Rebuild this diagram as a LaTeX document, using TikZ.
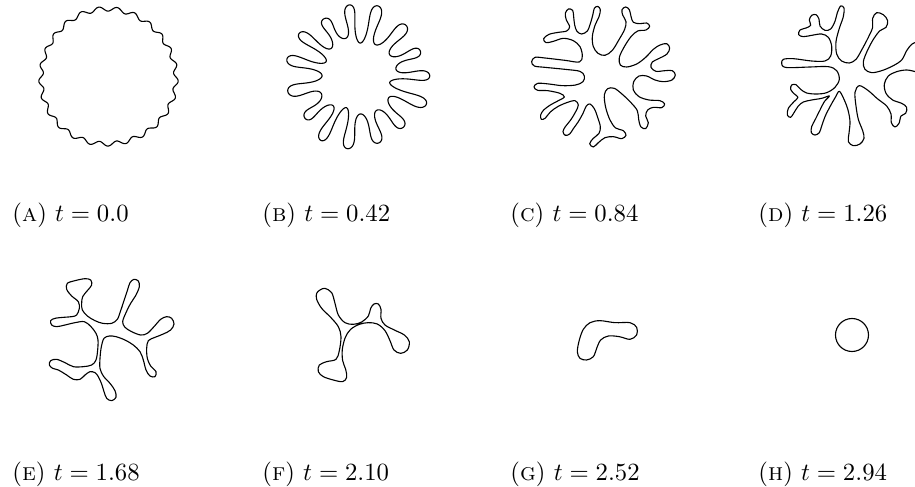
\documentclass[tikz,border=0pt]{standalone}
\begin{document}
\begin{tikzpicture}[x=0.4044pt,y=-0.4044pt,
  curve/.style={line width=0.45pt, line join=round},
  captext/.style={anchor=base west, inner sep=0pt, font=\normalsize},
  declare function={
    rA(\t)=67.5+2.2*sin(25*\t+30*sin(2*\t))+0.8*sin(3*\t+40);
    uB(\t)=15*\t+25*sin(3*\t+10)+12*sin(5*\t+70);
    rB(\t)=54+17*cos(uB(\t))*(1+0.18*sin(4*\t+30)+0.08*sin(7*\t));
    pB(\t)=\t+2.4*sin(2*uB(\t))-1.5*sin(uB(\t));
  }]
\useasboundingbox (0,0) rectangle (915,487);
\clip (0,0) rectangle (915,487);

% (A) wavy circle
\draw[curve] plot[domain=0:360, samples=600] ({108+rA(\x)*cos(\x)},{77+rA(\x)*sin(\x)}) -- cycle;

% (B) fingered ring
\draw[curve] plot[domain=0:360, samples=1400] ({357.5+rB(\x)*cos(pB(\x))},{76.5+rB(\x)*sin(pB(\x))}) -- cycle;

% (C)
\begin{scope}[shift={(525,0)},scale=1/3]
\draw[curve] plot[smooth cycle, tension=0.55] coordinates {
(20,185) (30,172) (60,174) (120,181) (163,186) (172,168) (165,140) (145,122) (115,115) (85,124) (63,128) (56,116) (72,103) (100,97) (125,93) (134,80) (124,60) (121,40) (130,27) (143,31) (146,50) (149,75) (156,94) (170,102) (187,93) (197,68) (204,42) (208,25) (218,19) (226,29) (222,50) (210,76) (202,110) (205,140) (219,160) (240,166) (262,151) (282,119) (299,88) (303,65) (293,45) (291,29) (302,21) (313,29) (318,49) (325,67) (345,71) (365,69) (374,79) (363,90) (338,93) (318,110) (298,140) (283,172) (286,195) (305,201) (335,192) (362,172) (385,148) (405,135) (425,131) (434,144) (426,162) (401,176) (382,186) (378,202) (393,214) (420,212) (442,212) (451,225) (441,240) (415,245) (390,240) (365,228) (342,228) (326,245) (325,270) (342,290) (372,300) (405,302) (419,312) (410,323) (385,322) (368,330) (362,348) (370,368) (362,386) (347,380) (341,358) (337,332) (318,308) (292,283) (268,265) (248,266) (238,285) (242,322) (255,360) (272,384) (295,392) (303,406) (290,416) (265,410) (240,413) (220,428) (205,441) (194,431) (205,415) (222,400) (226,380) (218,352) (208,326) (195,312) (184,318) (174,340) (160,365) (145,386) (134,402) (121,406) (114,395) (121,380) (137,360) (152,335) (160,315) (150,302) (125,308) (98,320) (76,336) (60,355) (49,358) (47,345) (56,330) (76,315) (100,302) (118,291) (105,280) (68,272) (38,271) (27,261) (38,250) (72,252) (112,257) (152,255) (174,245) (178,228) (165,214) (120,208) (60,202) (28,198)};
\end{scope}

% (D)
\begin{scope}[shift={(770,0)},scale=1/3]
\draw[curve] plot[smooth cycle, tension=0.55] coordinates {
(35,190) (40,178) (70,176) (125,183) (165,183) (182,168) (185,138) (175,112) (155,102) (125,106) (100,110) (86,104) (90,90) (108,84) (122,76) (118,60) (125,46) (138,44) (147,57) (150,78) (165,91) (182,87) (195,64) (202,38) (212,18) (222,24) (220,50) (208,85) (198,125) (200,162) (215,183) (238,189) (258,178) (275,150) (295,112) (308,82) (308,55) (320,38) (340,44) (353,62) (348,82) (330,92) (312,115) (293,150) (280,185) (285,208) (305,218) (335,212) (368,198) (395,180) (410,152) (425,133) (440,128) (448,145) (440,170) (445,188) (470,192) (482,210) (466,224) (440,216) (410,210) (380,215) (355,228) (343,252) (348,280) (368,300) (395,310) (410,322) (407,340) (393,348) (387,370) (375,381) (364,368) (363,342) (350,318) (322,296) (295,272) (268,257) (255,277) (258,318) (265,358) (278,392) (282,415) (270,432) (250,437) (235,425) (237,400) (240,365) (234,330) (222,298) (208,274) (196,292) (180,320) (165,350) (155,378) (148,398) (135,405) (124,398) (125,380) (136,358) (150,330) (163,305) (178,288) (155,295) (125,300) (100,306) (85,318) (72,338) (62,352) (52,345) (55,325) (72,305) (84,292) (72,281) (62,268) (65,255) (78,254) (92,268) (110,279) (140,282) (170,278) (195,262) (208,238) (200,212) (175,200) (120,201) (60,203) (40,200)};
\end{scope}

% (E)
\begin{scope}[shift={(30,270)},scale=1/3]
\draw[curve] plot[smooth cycle, tension=0.55] coordinates {
(140,135) (148,115) (145,95) (125,78) (110,58) (112,40) (135,32) (165,26) (182,30) (185,45) (172,62) (158,80) (155,100) (157,120) (172,138) (195,152) (218,160) (245,160) (262,148) (272,122) (282,92) (292,62) (300,38) (312,28) (325,33) (328,50) (318,75) (302,100) (288,128) (278,155) (285,172) (305,185) (332,195) (352,190) (372,170) (392,148) (410,140) (425,145) (432,162) (422,180) (400,192) (375,202) (355,212) (350,235) (352,265) (362,288) (378,305) (375,320) (360,318) (348,300) (340,270) (330,245) (310,225) (285,210) (258,200) (238,198) (222,205) (214,230) (210,265) (210,295) (220,318) (240,340) (255,362) (258,382) (245,392) (230,385) (222,365) (215,342) (205,320) (195,308) (180,305) (165,315) (150,328) (130,328) (110,315) (85,300) (68,295) (58,285) (62,272) (80,268) (105,278) (130,290) (160,290) (185,285) (198,270) (203,240) (204,210) (198,190) (183,170) (163,155) (135,158) (105,165) (80,170) (65,165) (62,152) (75,145) (100,142) (125,140)};
\end{scope}

% (F) and (G)
\begin{scope}[shift={(300,280)},scale=1/3]
\draw[curve] plot[smooth cycle, tension=0.55] coordinates {
(60,30) (75,25) (95,38) (105,70) (115,105) (135,128) (160,133) (185,126) (205,108) (212,85) (222,72) (235,72) (243,88) (243,115) (255,135) (283,150) (313,165) (328,185) (322,210) (302,220) (282,210) (270,182) (255,152) (232,132) (205,128) (178,133) (152,148) (136,172) (127,208) (128,242) (137,268) (140,292) (128,305) (100,300) (70,290) (55,275) (58,255) (80,245) (108,238) (118,212) (123,170) (115,140) (92,112) (65,85) (50,58) (50,40)};
\draw[curve] plot[smooth cycle, tension=0.55] coordinates {
(832,215) (838,180) (850,148) (870,128) (900,122) (945,128) (990,128) (1010,142) (1010,165) (990,178) (958,170) (925,168) (902,180) (890,205) (880,230) (860,240) (840,235)};
\end{scope}

% (H)
\draw[curve] (852,335) circle[radius=16.5];

% captions
\node[captext] (capA) at (12,221) {(\textsc{a})\ $t = 0.0$};
\node[captext] (capB) at (262,221) {(\textsc{b})\ $t = 0.42$};
\node[captext] (capC) at (510,221) {(\textsc{c})\ $t = 0.84$};
\node[captext] (capD) at (758,221) {(\textsc{d})\ $t = 1.26$};
\node[captext] (capE) at (12,480) {(\textsc{e})\ $t = 1.68$};
\node[captext] (capF) at (262,480) {(\textsc{f})\ $t = 2.10$};
\node[captext] (capG) at (510,480) {(\textsc{g})\ $t = 2.52$};
\node[captext] (capH) at (758,480) {(\textsc{h})\ $t = 2.94$};
\end{tikzpicture}
\end{document}
